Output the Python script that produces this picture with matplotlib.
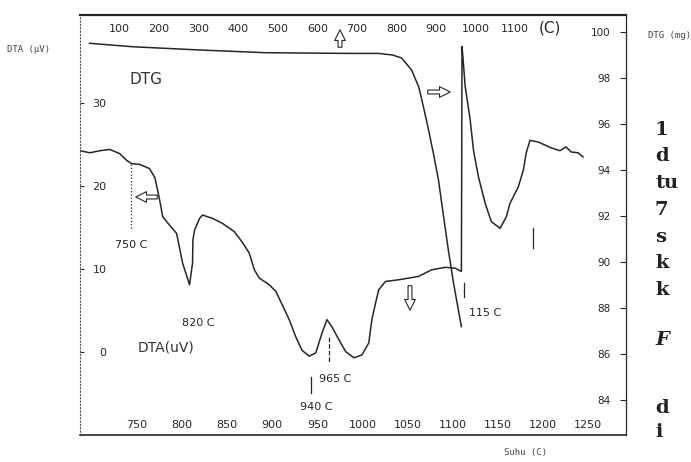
import matplotlib
matplotlib.use('Agg')
import matplotlib.pyplot as plt

# ---------------- data ----------------
# DTA curve (bottom temperature axis, C ; left axis, uV)
dta_temp = [687, 698, 709, 720, 731, 738.5, 744, 753, 764, 770, 773, 776, 778.6,
            786, 794, 797.4, 800.7, 808.4, 811.7, 812.1, 814, 819.5, 822.8, 833.8,
            844.8, 858, 867, 874.6, 880.2, 885.7, 896.7, 904, 911, 918.8, 926.2,
            933, 941, 948.3, 955.2, 960.7, 966.3, 974, 981.4, 990.5, 999.4, 1007,
            1010.4, 1014.5, 1018, 1025.5, 1040, 1062, 1076.6, 1091.7, 1102.8,
            1109.6, 1110.0, 1110.3, 1111.5, 1113.8, 1119.3, 1123, 1128.5, 1136,
            1142.8, 1152.5, 1159.4, 1163.4, 1172.7, 1178.2, 1181.5, 1185.6, 1194.7,
            1209, 1218.7, 1225.6, 1231.2, 1238.9, 1244.4]
dta_uv = [24.25, 24.0, 24.25, 24.4, 23.9, 23.1, 22.7, 22.6, 22.1, 21.0, 19.5, 17.9,
          16.3, 15.3, 14.3, 12.5, 10.7, 8.1, 10.7, 13.5, 14.7, 16.1, 16.5, 16.1,
          15.5, 14.5, 13.2, 11.9, 9.9, 8.9, 8.1, 7.3, 5.7, 3.9, 1.8, 0.2, -0.5,
          -0.1, 2.3, 3.9, 3.0, 1.45, 0.05, -0.7, -0.35, 1.1, 3.9, 5.9, 7.5, 8.5,
          8.7, 9.1, 9.9, 10.2, 10.1, 9.7, 24.0, 36.8, 35.2, 32.0, 28.0, 24.3, 21.1,
          17.9, 15.7, 14.9, 16.3, 17.9, 19.9, 21.9, 24.0, 25.5, 25.3, 24.6, 24.25,
          24.7, 24.1, 24.0, 23.5]

# TG curve (top temperature axis, C ; right axis, mg)
tg_temp = [24, 133, 301, 470, 679, 755, 790, 813, 838, 856, 868, 881, 893, 906,
           919, 931, 944, 964]
tg_mg = [99.51, 99.36, 99.22, 99.10, 99.07, 99.07, 99.0, 98.87, 98.35, 97.62,
         96.75, 95.74, 94.74, 93.57, 91.97, 90.52, 89.09, 87.19]

bottom_ticks = [750, 800, 850, 900, 950, 1000, 1050, 1100, 1150, 1200, 1250]
top_ticks = [100, 200, 300, 400, 500, 600, 700, 800, 900, 1000, 1100]
left_ticks = [0, 10, 20, 30]
right_ticks = [100, 98, 96, 94, 92, 90, 88, 86, 84]

# peak labels: (text, x, y, ha) in DTA data coordinates
peak_labels = [("750 C", 744, 12.9, 'center'), ("820 C", 818, 3.5, 'center'),
               ("965 C", 952, -3.3, 'left'), ("940 C", 948.6, -6.6, 'center'),
               ("115 C", 1117.5, 4.7, 'left')]
# marker ticks (x, y0, y1, style)
markers = [(743, 22.6, 14.7, ':'), (963, 1.8, -1.2, '--'), (943, -3.0, -4.9, '-'),
           (1112, 8.3, 6.6, '-'), (1189, 14.9, 12.5, '-')]

# ---------------- figure ----------------
W, H = 691, 462
fig = plt.figure(figsize=(W / 100, H / 100), dpi=100)
L, R, T, B = 80, 626, 15, 435
rect = [L / W, 1 - B / H, (R - L) / W, (B - T) / H]
ax = fig.add_axes(rect)
axt = fig.add_axes(rect)
axt.patch.set_alpha(0)

ink = '#262626'
ax.set_xlim(687, 1292)
ax.set_ylim(-10, 40.6)
axt.set_xlim(0, 1380)
axt.set_ylim(82.48, 100.74)
axt.xaxis.tick_top()
axt.yaxis.tick_right()

ax.set_xticks(bottom_ticks)
ax.set_yticks(left_ticks)
axt.set_xticks(top_ticks)
axt.set_yticks(right_ticks)

ax.tick_params(axis='x', direction='in', length=0, pad=-11, labelsize=8, colors=ink)
ax.tick_params(axis='y', direction='in', length=3, pad=-19, labelsize=8, colors=ink)
axt.tick_params(axis='x', direction='in', length=0, pad=-14, labelsize=8, colors=ink)
axt.tick_params(axis='y', direction='in', length=4, pad=-11, labelsize=7.5, colors=ink)
for lab in axt.get_yticklabels():
    lab.set_horizontalalignment('right')

ax.spines['top'].set_visible(False)
ax.spines['right'].set_visible(False)
ax.spines['left'].set_linestyle((0, (1, 2)))
ax.spines['left'].set_linewidth(0.8)
ax.spines['left'].set_color('#555555')
ax.spines['bottom'].set_linewidth(1.2)
ax.spines['bottom'].set_color(ink)
axt.spines['left'].set_visible(False)
axt.spines['bottom'].set_visible(False)
axt.spines['top'].set_linewidth(1.6)
axt.spines['top'].set_color(ink)
axt.spines['right'].set_linewidth(0.9)
axt.spines['right'].set_color(ink)

ax.plot(dta_temp, dta_uv, color=ink, lw=1.1)
axt.plot(tg_temp, tg_mg, color=ink, lw=1.1)

for x, y0, y1, ls in markers:
    ax.plot([x, x], [y0, y1], ls=ls, color=ink, lw=0.9)
for txt, x, y, ha in peak_labels:
    ax.text(x, y, txt, fontsize=8, ha=ha, va='center', color=ink)

ax.text(742, 32.8, "DTG", fontsize=11, ha='left', va='center', color='#333333')
ax.text(751, 0.5, "DTA(uV)", fontsize=10, ha='left', va='center', color='#333333')


def fp(x, y):
    return (x / W, 1 - y / H)


fig.text(*fp(550, 28), "(C)", fontsize=11, ha='center', va='center', color=ink)
fig.text(*fp(7, 50), "DTA (\u00b5V)", fontsize=6.5, family='DejaVu Sans Mono',
         ha='left', va='center', color='#444444')
fig.text(*fp(648, 35), "DTG (mg)", fontsize=6.5, family='DejaVu Sans Mono',
         ha='left', va='center', color='#444444')
fig.text(*fp(525, 452), "Suhu (C)", fontsize=6.5, family='DejaVu Sans Mono',
         ha='center', va='center', color='#444444')

# hollow arrows
arrows = [((133, 197), (160, 197)), ((453, 92), (425, 92)),
          ((410, 313), (410, 283)), ((340, 27), (340, 50))]
for tip, tail in arrows:
    fig.add_artist(matplotlib.patches.FancyArrowPatch(
        fp(*tail), fp(*tip), transform=fig.transFigure,
        arrowstyle='simple,head_width=0.55,head_length=0.55,tail_width=0.2',
        mutation_scale=14, fc='white', ec=ink, lw=0.8))

# clipped text column of the scanned page
col = [("1", 130, 'normal'), ("d", 156, 'normal'), ("tu", 183, 'normal'),
       ("7", 210, 'normal'), ("s", 237, 'normal'), ("k", 263, 'normal'),
       ("k", 290, 'normal'), ("F", 340, 'italic'), ("d", 408, 'normal'),
       ("i", 432, 'normal')]
for txt, y, st in col:
    fig.text(*fp(655, y), txt, fontsize=14, family='DejaVu Serif', weight='bold',
             style=st, ha='left', va='center', color='#222222')

fig.savefig('out.png', dpi=100)
